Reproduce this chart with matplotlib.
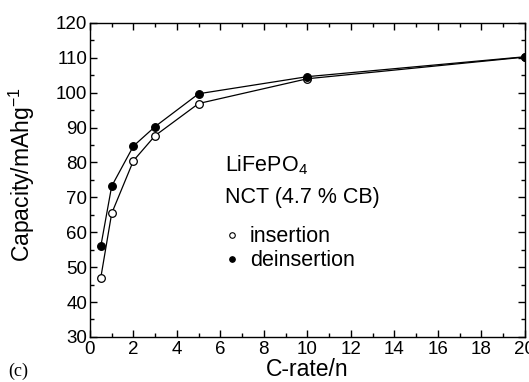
import matplotlib
matplotlib.use("Agg")
import matplotlib.pyplot as plt
from matplotlib.lines import Line2D
from matplotlib.ticker import MultipleLocator

# C-rate values and capacities (mAh/g)
c_rate = [0.5, 1, 2, 3, 5, 10, 20]
insertion = [47.0, 65.4, 80.5, 87.7, 96.9, 104.0, 110.2]
deinsertion = [56.0, 73.2, 84.7, 90.3, 99.7, 104.6, 110.3]

plt.rcParams['font.family'] = ['Liberation Sans', 'DejaVu Sans']
plt.rcParams['mathtext.fontset'] = 'custom'
plt.rcParams['mathtext.rm'] = 'Liberation Sans'

fig = plt.figure(figsize=(5.29, 3.82), dpi=100)
ax = fig.add_axes([0.170, 0.118, 0.822, 0.822])

ax.plot(c_rate, insertion, color='black', lw=0.9, marker='o', ms=5.5,
        mfc='white', mec='black', mew=0.9, zorder=3)
ax.plot(c_rate, deinsertion, color='black', lw=0.9, marker='o', ms=5.5,
        mfc='black', mec='black', mew=0.9, zorder=3)

ax.set_xlim(0, 20)
ax.set_ylim(30, 120)
ax.xaxis.set_major_locator(MultipleLocator(2))
ax.xaxis.set_minor_locator(MultipleLocator(1))
ax.yaxis.set_major_locator(MultipleLocator(10))
ax.yaxis.set_minor_locator(MultipleLocator(5))
ax.tick_params(which='both', direction='in', top=True, right=True,
               width=1.0, labelsize=13.5)
ax.tick_params(axis='x', pad=3)
ax.tick_params(axis='y', pad=2)
ax.tick_params(which='major', length=5)
ax.tick_params(which='minor', length=3)
for s in ax.spines.values():
    s.set_linewidth(1.0)

ax.set_xlabel('C-rate/n', fontsize=16.5, labelpad=0)
fig.text(22 / 529, 1 - 175 / 382, 'Capacity/mAhg$^{-1}$', rotation=90,
         fontsize=16.5, ha='center', va='center')
fig.text(8 / 529, 1 - 371 / 382, '(c)', fontsize=13, ha='left', va='center',
         family=['Liberation Serif', 'DejaVu Serif'])

ax.text(0.31, 0.548, 'LiFePO$_4$', transform=ax.transAxes, fontsize=15.5,
        ha='left', va='center')
ax.text(0.31, 0.443, 'NCT (4.7 % CB)', transform=ax.transAxes, fontsize=15.5,
        ha='left', va='center')

handles = [Line2D([], [], ls='none', marker='o', ms=4, mfc='white', mec='black', mew=0.8),
           Line2D([], [], ls='none', marker='o', ms=4, mfc='black', mec='black', mew=0.8)]
ax.legend(handles, ['insertion', 'deinsertion'], loc='upper left',
          bbox_to_anchor=(0.313, 0.353), frameon=False, fontsize=15.5,
          handlelength=0.6, handletextpad=0.5, labelspacing=0.15,
          borderaxespad=0, borderpad=0)

fig.savefig('out.png', dpi=100)
